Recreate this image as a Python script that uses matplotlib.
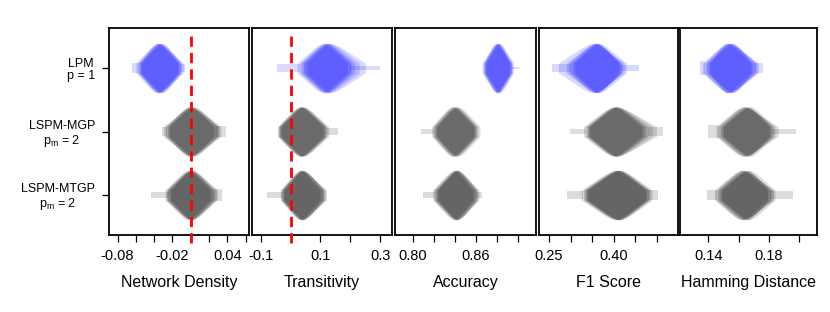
import numpy as np
import matplotlib.pyplot as plt

plt.rcParams['font.family'] = ['Liberation Sans', 'DejaVu Sans']
plt.rcParams['axes.unicode_minus'] = False

models = ["LPM\np = 1",
          "LSPM-MGP\np$_\\mathregular{m}$ = 2",
          "LSPM-MTGP\np$_\\mathregular{m}$ = 2"]
metrics = ["Network Density", "Transitivity", "Accuracy", "F1 Score", "Hamming Distance"]
model_colors = ["#0000ff", "#000000", "#000000"]
model_alpha = [0.15, 0.135, 0.14]

# one replicate per layer: (low end, mode, high end); rows are LPM, MGP, MTGP
density_layers = [
    [(-0.058, -0.035, -0.012), (-0.055, -0.032, -0.010), (-0.060, -0.037, -0.014),
     (-0.054, -0.031, -0.011), (-0.057, -0.034, -0.013), (-0.056, -0.036, -0.008)],
    [(-0.028, 0.000, 0.030), (-0.025, -0.003, 0.027), (-0.030, 0.002, 0.033),
     (-0.023, 0.001, 0.025), (-0.027, -0.001, 0.031), (-0.025, 0.004, 0.029)],
    [(-0.026, -0.001, 0.024), (-0.023, 0.001, 0.026), (-0.028, -0.003, 0.021),
     (-0.022, 0.002, 0.028), (-0.025, -0.001, 0.025), (-0.027, 0.001, 0.029)],
]
# thin tails beyond the bodies: (from, to, relative width)
density_tails = [
    [(-0.064, -0.056, 0.2), (-0.012, -0.006, 0.15)],
    [(-0.031, -0.026, 0.2), (0.028, 0.039, 0.22)],
    [(-0.043, -0.024, 0.12), (0.025, 0.034, 0.25)],
]

trans_layers = [
    [(0.030, 0.115, 0.200), (0.042, 0.122, 0.215), (0.022, 0.108, 0.190),
     (0.045, 0.128, 0.230), (0.035, 0.118, 0.205), (0.055, 0.132, 0.250)],
    [(-0.040, 0.035, 0.115), (-0.035, 0.041, 0.122), (-0.045, 0.030, 0.108),
     (-0.038, 0.038, 0.118), (-0.032, 0.043, 0.128), (-0.042, 0.033, 0.115)],
    [(-0.030, 0.035, 0.105), (-0.025, 0.041, 0.112), (-0.035, 0.030, 0.098),
     (-0.028, 0.038, 0.120), (-0.022, 0.044, 0.110), (-0.033, 0.036, 0.116)],
]
trans_tails = [
    [(-0.047, 0.030, 0.16), (0.200, 0.300, 0.10)],
    [(0.120, 0.160, 0.15)],
    [(-0.080, -0.025, 0.12)],
]

acc_layers = [
    [(0.868, 0.881, 0.894), (0.866, 0.880, 0.892), (0.869, 0.882, 0.895),
     (0.867, 0.881, 0.893), (0.870, 0.883, 0.896), (0.868, 0.879, 0.894)],
    [(0.820, 0.840, 0.860), (0.822, 0.842, 0.862), (0.818, 0.838, 0.858),
     (0.823, 0.843, 0.864), (0.821, 0.840, 0.861), (0.819, 0.838, 0.859)],
    [(0.821, 0.841, 0.860), (0.823, 0.843, 0.862), (0.819, 0.839, 0.857),
     (0.822, 0.843, 0.861), (0.820, 0.841, 0.859), (0.824, 0.842, 0.863)],
]
acc_tails = [
    [(0.894, 0.901, 0.06)],
    [(0.808, 0.820, 0.12)],
    [(0.810, 0.821, 0.14), (0.860, 0.866, 0.12)],
]

f1_layers = [
    [(0.300, 0.360, 0.418), (0.295, 0.357, 0.420), (0.305, 0.364, 0.415),
     (0.272, 0.352, 0.425), (0.310, 0.366, 0.430), (0.290, 0.360, 0.412)],
    [(0.335, 0.403, 0.470), (0.340, 0.406, 0.480), (0.330, 0.400, 0.465),
     (0.345, 0.410, 0.490), (0.338, 0.404, 0.500), (0.342, 0.407, 0.475)],
    [(0.330, 0.410, 0.480), (0.335, 0.414, 0.485), (0.325, 0.404, 0.475),
     (0.340, 0.416, 0.490), (0.332, 0.408, 0.478), (0.338, 0.412, 0.482)],
]
f1_tails = [
    [(0.256, 0.300, 0.15), (0.415, 0.460, 0.12)],
    [(0.299, 0.335, 0.10), (0.480, 0.515, 0.20)],
    [(0.291, 0.330, 0.18), (0.480, 0.504, 0.20)],
]

ham_layers = [
    [(0.138, 0.154, 0.170), (0.137, 0.153, 0.172), (0.140, 0.156, 0.169),
     (0.136, 0.153, 0.173), (0.139, 0.156, 0.171), (0.141, 0.152, 0.168)],
    [(0.148, 0.165, 0.182), (0.146, 0.163, 0.184), (0.150, 0.167, 0.181),
     (0.145, 0.163, 0.186), (0.149, 0.168, 0.183), (0.147, 0.165, 0.180)],
    [(0.147, 0.164, 0.181), (0.145, 0.162, 0.183), (0.149, 0.166, 0.180),
     (0.146, 0.164, 0.182), (0.148, 0.167, 0.184), (0.144, 0.162, 0.179)],
]
ham_tails = [
    [(0.1345, 0.138, 0.30), (0.170, 0.1763, 0.20)],
    [(0.140, 0.147, 0.25), (0.182, 0.198, 0.12)],
    [(0.139, 0.146, 0.20), (0.181, 0.196, 0.15)],
]

all_layers = [density_layers, trans_layers, acc_layers, f1_layers, ham_layers]
all_tails = [density_tails, trans_tails, acc_tails, f1_tails, ham_tails]

ticks = [
    [-0.08, -0.06, -0.04, -0.02, 0.0, 0.02, 0.04, 0.06],
    [-0.1, 0.0, 0.1, 0.2, 0.3],
    [0.80, 0.82, 0.84, 0.86, 0.88, 0.90],
    [0.25, 0.30, 0.35, 0.40, 0.45, 0.50],
    [0.14, 0.16, 0.18, 0.20],
]
tick_labels = [
    ["-0.08", "", "", "-0.02", "", "", "0.04", ""],
    ["-0.1", "", "0.1", "", "0.3"],
    ["0.80", "", "", "0.86", "", ""],
    ["0.25", "", "", "0.40", "", ""],
    ["0.14", "", "0.18", ""],
]
xlims = [(-0.0893, 0.0637), (-0.1299, 0.340), (0.7831, 0.9174), (0.2267, 0.55), (0.1213, 0.2117)]
ref_lines = [0.0, 0.0, None, None, None]

# violin outline shape (end -> mode)
U = np.array([0, 0.12, 0.25, 0.38, 0.5, 0.62, 0.74, 0.86, 0.95, 1.0])
W = np.array([0.2, 0.31, 0.43, 0.55, 0.66, 0.77, 0.87, 0.95, 0.99, 1.0])
half = 0.39

fig = plt.figure(figsize=(8.3, 3.12), dpi=100)
lefts = [109, 252, 395, 539, 680]
rights = [249, 392, 536, 678, 817]

for k in range(5):
    ax = fig.add_axes([lefts[k] / 830, 77 / 312, (rights[k] - lefts[k]) / 830, 207 / 312])
    for i in range(3):
        y0 = i + 1
        for lo, mode, hi in all_layers[k][i]:
            xs = np.concatenate([lo + U * (mode - lo), mode + (1 - U[::-1]) * (hi - mode)])
            ws = np.concatenate([W, W[::-1]]) * half
            ax.fill_between(xs, y0 - ws, y0 + ws, color=model_colors[i],
                            alpha=model_alpha[i], lw=0)
        for a, b, w in all_tails[k][i]:
            ax.fill_between([a, b], y0 - w * half, y0 + w * half,
                            color=model_colors[i], alpha=model_alpha[i], lw=0)
    if ref_lines[k] is not None:
        ax.axvline(ref_lines[k], ymin=-0.04, ymax=0.97, color="red", lw=2,
                   ls=(0, (3.7, 2.2)), clip_on=False, zorder=5)
    ax.set_xlim(*xlims[k])
    ax.set_ylim(3.63, 0.37)
    ax.set_xticks(ticks[k])
    ax.set_xticklabels(tick_labels[k])
    ax.tick_params(axis="x", direction="out", length=5, width=0.9, labelsize=10.5, pad=5)
    ax.set_xlabel(metrics[k], fontsize=11.5, labelpad=9)
    if k == 0:
        ax.set_yticks([1, 2, 3])
        ax.set_yticklabels(models, multialignment="center", fontsize=9, linespacing=1.05)
        ax.tick_params(axis="y", direction="out", length=5, width=0.9, pad=5)
    else:
        ax.set_yticks([])
    for s in ax.spines.values():
        s.set_linewidth(1.3)

plt.savefig("out.png", dpi=100)
